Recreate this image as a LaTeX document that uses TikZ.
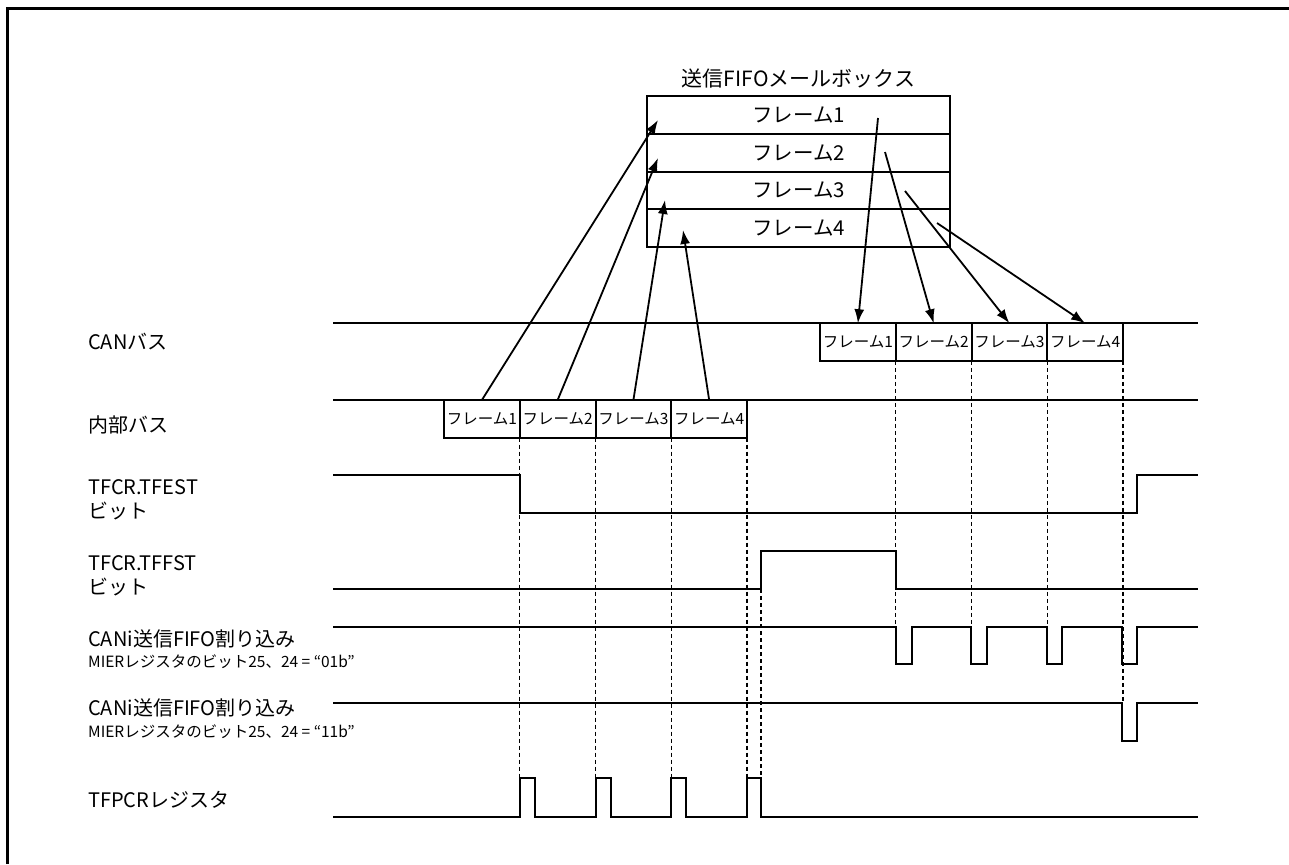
\documentclass[tikz,border=0pt]{standalone}
\usepackage{fontspec}
\setmainfont{Noto Sans CJK JP}
\usetikzlibrary{arrows.meta,positioning,calc}
\tikzset{
  frame/.style={line width=3pt},
  sig/.style={line width=2pt},
  guide/.style={line width=1.3pt, dash pattern=on 4pt off 3pt},
  arr/.style={-{Latex[length=14pt,width=10pt]}, line width=1.8pt},
  mbrow/.style={draw, line width=2pt, outer sep=0pt, minimum width=303pt, minimum height=37.75pt, inner sep=0pt, font=\fontsize{20.5}{20.5}\selectfont},
  fbox/.style={draw, line width=2pt, outer sep=0pt, minimum width=75.75pt, minimum height=37.5pt, inner sep=0pt, font=\fontsize{15.5}{15.5}\selectfont},
  lbl/.style={anchor=west, inner sep=0pt, align=left, font=\fontsize{20}{24}\selectfont},
  sublbl/.style={anchor=west, inner sep=0pt, font=\fontsize{15.5}{16}\selectfont}
}

\begin{document}
\begin{tikzpicture}[x=1pt,y=-1pt]
\useasboundingbox (0,0) rectangle (1289,864);
\draw[frame] (7,864) -- (7,9) -- (1289,9);

% mailbox
\node[mbrow] (mb1) at (798.5,114.9) {フレーム1};
\node[mbrow,below=0pt of mb1] (mb2) {フレーム2};
\node[mbrow,below=0pt of mb2] (mb3) {フレーム3};
\node[mbrow,below=0pt of mb3] (mb4) {フレーム4};
\node[above=4pt of mb1,font=\fontsize{21}{21}\selectfont] (mbtitle) {送信FIFOメールボックス};

% buses
\draw[sig] (333,323) -- (1198,323);
\draw[sig] (333,400) -- (1198,400);
\node[fbox] (cb1) at (857.9,342) {フレーム1};
\node[fbox,right=0pt of cb1] (cb2) {フレーム2};
\node[fbox,right=0pt of cb2] (cb3) {フレーム3};
\node[fbox,right=0pt of cb3] (cb4) {フレーム4};
\node[fbox] (ib1) at (481.9,418.75) {フレーム1};
\node[fbox,right=0pt of ib1] (ib2) {フレーム2};
\node[fbox,right=0pt of ib2] (ib3) {フレーム3};
\node[fbox,right=0pt of ib3] (ib4) {フレーム4};

% labels
\node[lbl] (lcan) at (88,342) {CANバス};
\node[lbl] (lint) at (88,425) {内部バス};
\node[lbl] (ltfest) at (88,500) {TFCR.TFEST\\ビット};
\node[lbl] (ltffst) at (88,576) {TFCR.TFFST\\ビット};
\node[lbl] (lirqa) at (88,639) {CANi送信FIFO割り込み};
\node[sublbl] (lmiera) at (88,662) {MIERレジスタのビット25、24 = “01b”};
\node[lbl] (lirqb) at (88,708) {CANi送信FIFO割り込み};
\node[sublbl] (lmierb) at (88,732) {MIERレジスタのビット25、24 = “11b”};
\node[lbl] (ltfpcr) at (88,800) {TFPCRレジスタ};

% waveforms
\draw[sig] (333,475) -- (520,475) -- (520,513) -- (1137,513) -- (1137,475) -- (1198,475);
\draw[sig] (333,589) -- (761,589) -- (761,551) -- (896,551) -- (896,589) -- (1198,589);
\draw[sig] (333,627) -- (896,627) -- (896,664) -- (912,664) -- (912,627)
  -- (971,627) -- (971,664) -- (987,664) -- (987,627)
  -- (1047,627) -- (1047,664) -- (1062,664) -- (1062,627)
  -- (1122,627) -- (1122,664) -- (1137,664) -- (1137,627) -- (1198,627);
\draw[sig] (333,703) -- (1122,703) -- (1122,741) -- (1137,741) -- (1137,703) -- (1198,703);
\draw[sig] (333,817) -- (520,817) -- (520,778) -- (535,778) -- (535,817)
  -- (596,817) -- (596,778) -- (611,778) -- (611,817)
  -- (671,817) -- (671,778) -- (686,778) -- (686,817)
  -- (747,817) -- (747,778) -- (761,778) -- (761,817) -- (1198,817);

% guides
\draw[guide] (ib1.south east) -- (ib1.south east |- 0,778);
\draw[guide] (ib2.south east) -- (ib2.south east |- 0,778);
\draw[guide] (ib3.south east) -- (ib3.south east |- 0,778);
\draw[guide] (ib4.south east) -- (ib4.south east |- 0,778);
\draw[guide] (761,589) -- (761,778);
\draw[guide] (cb1.south east) -- (cb1.south east |- 0,627);
\draw[guide] (cb2.south east) -- (cb2.south east |- 0,627);
\draw[guide] (cb3.south east) -- (cb3.south east |- 0,627);
\draw[guide] (cb4.south east) -- (cb4.south east |- 0,703);

% write into mailbox
\coordinate (win1) at (658,120);
\coordinate (win2) at (658,158);
\coordinate (win3) at (665,200);
\coordinate (win4) at (683,230);
\draw[arr] (ib1.north) -- (win1);
\draw[arr] (ib2.north) -- (win2);
\draw[arr] (ib3.north) -- (win3);
\draw[arr] (ib4.north) -- (win4);

% send to CAN bus
\coordinate (rout1) at (878,118);
\coordinate (rout2) at (885,152);
\coordinate (rout3) at (905,191);
\coordinate (rout4) at (937,223);
\draw[arr] (rout1) -- (cb1.north);
\draw[arr] (rout2) -- (cb2.north);
\draw[arr] (rout3) -- (cb3.north);
\draw[arr] (rout4) -- (cb4.north);
\end{tikzpicture}
\end{document}
